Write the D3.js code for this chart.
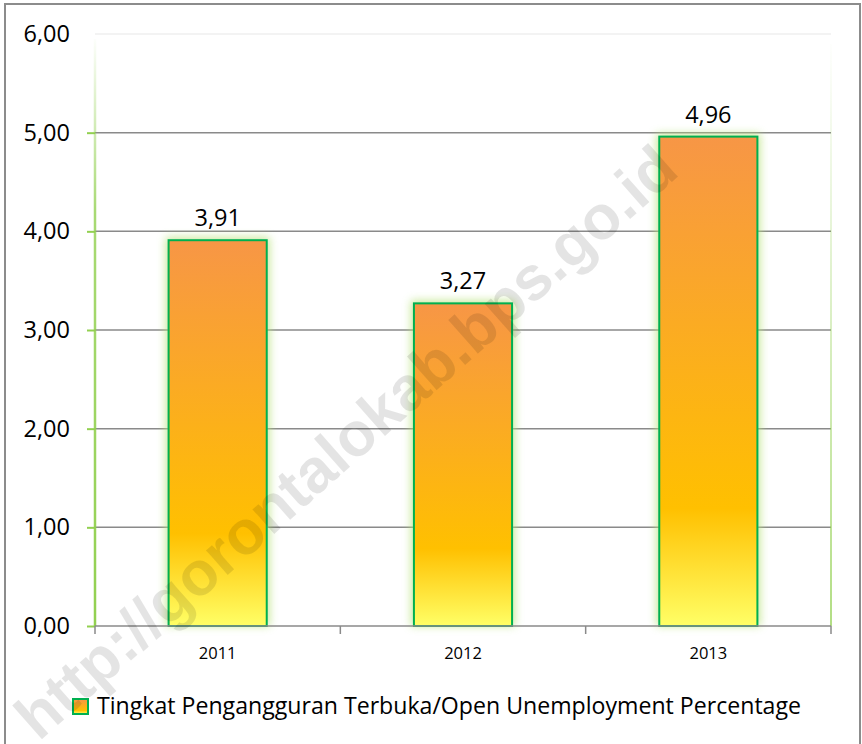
<!DOCTYPE html>
<html>
<head>
<meta charset="utf-8">
<script src="https://cdn.jsdelivr.net/npm/d3@7"></script>
<style>
  body { margin: 0; background: #fff; }
  svg text { font-family: "Open Sans", Carlito, Calibri, sans-serif; fill: #000; }
</style>
</head>
<body>
<div id="vis"></div>
<script>
// data
const years = ['2011', '2012', '2013'];
const rates = [3.91, 3.27, 4.96];
const yTicks = [0, 1, 2, 3, 4, 5, 6];
const seriesName = 'Tingkat Pengangguran Terbuka/Open Unemployment Percentage';
const watermark = 'http://gorontalokab.bps.go.id';

const W = 862, H = 744;
const plot = { left: 95, right: 831, top: 34, bottom: 626 };

const $svg = d3.select('#vis').append('svg')
  .attr('width', W).attr('height', H);

const defs = $svg.append('defs');

const grad = defs.append('linearGradient')
  .attr('id', 'barFill')
  .attr('x1', 0).attr('y1', 0).attr('x2', 0).attr('y2', 1);
grad.append('stop').attr('offset', '0%').attr('stop-color', '#F79646');
grad.append('stop').attr('offset', '76%').attr('stop-color', '#FFC000');
grad.append('stop').attr('offset', '100%').attr('stop-color', '#FFFF66');

const axisGrad = defs.append('linearGradient')
  .attr('id', 'axisFade')
  .attr('gradientUnits', 'userSpaceOnUse')
  .attr('x1', 0).attr('y1', plot.top).attr('x2', 0).attr('y2', plot.bottom);
axisGrad.append('stop').attr('offset', '0%').attr('stop-color', '#92D050').attr('stop-opacity', 0);
axisGrad.append('stop').attr('offset', '30%').attr('stop-color', '#92D050').attr('stop-opacity', 0.8);
axisGrad.append('stop').attr('offset', '100%').attr('stop-color', '#92D050').attr('stop-opacity', 1);

const rightGrad = defs.append('linearGradient')
  .attr('id', 'rightFade')
  .attr('gradientUnits', 'userSpaceOnUse')
  .attr('x1', 0).attr('y1', plot.top).attr('x2', 0).attr('y2', plot.bottom);
rightGrad.append('stop').attr('offset', '0%').attr('stop-color', '#92D050').attr('stop-opacity', 0);
rightGrad.append('stop').attr('offset', '100%').attr('stop-color', '#92D050').attr('stop-opacity', 0.7);

const glow = defs.append('filter').attr('id', 'glow')
  .attr('x', '-30%').attr('y', '-30%').attr('width', '160%').attr('height', '160%');
glow.append('feGaussianBlur').attr('stdDeviation', 4);

// outer frame
$svg.append('rect')
  .attr('x', 5).attr('y', 4)
  .attr('width', 855).attr('height', 745)
  .attr('fill', 'none')
  .attr('stroke', '#8c8c8c')
  .attr('stroke-width', 2);

// scales
const x = d3.scaleBand()
  .domain(years)
  .range([plot.left, plot.right])
  .paddingInner(0.6)
  .paddingOuter(0.3);

const xCat = d3.scaleBand()
  .domain(years)
  .range([plot.left, plot.right]);

const y = d3.scaleLinear()
  .domain([0, 6])
  .range([plot.bottom, plot.top]);

const fmt = v => d3.format('.2f')(v).replace('.', ',');

// gridlines
$svg.append('g').attr('class', 'grid')
  .selectAll('line')
  .data(yTicks.filter(d => d > 0))
  .join('line')
  .attr('x1', plot.left).attr('x2', plot.right)
  .attr('y1', d => y(d)).attr('y2', d => y(d))
  .attr('stroke', d => d === 6 ? '#efefef' : '#8a8a8a')
  .attr('stroke-width', 1.5);

// y axis
const yAxis = d3.axisLeft(y)
  .tickValues(yTicks)
  .tickSize(8)
  .tickPadding(17)
  .tickFormat(fmt);

const $yAxis = $svg.append('g')
  .attr('transform', `translate(${plot.left},0)`)
  .call(yAxis);
$yAxis.select('.domain').remove();
$yAxis.selectAll('.tick line')
  .attr('stroke', '#92D050')
  .attr('stroke-width', 2)
  .attr('opacity', d => d === 6 ? 0 : 1);
$yAxis.selectAll('.tick text')
  .style('font-size', '23.5px');

$svg.append('line')
  .attr('x1', plot.left).attr('x2', plot.left)
  .attr('y1', plot.top + 5).attr('y2', plot.bottom)
  .attr('stroke', 'url(#axisFade)')
  .attr('stroke-width', 2.5);

$svg.append('line')
  .attr('x1', plot.right).attr('x2', plot.right)
  .attr('y1', plot.top + 10).attr('y2', plot.bottom)
  .attr('stroke', 'url(#rightFade)')
  .attr('stroke-width', 2);

// bars
const $bars = $svg.append('g').attr('class', 'bars')
  .selectAll('g')
  .data(years.map((d, i) => ({ year: d, value: rates[i] })))
  .join('g');

$bars.append('rect')
  .attr('x', d => x(d.year) - 3)
  .attr('y', d => y(d.value) - 3)
  .attr('width', x.bandwidth() + 6)
  .attr('height', d => y(0) - y(d.value) + 3)
  .attr('fill', '#b8e27a')
  .attr('opacity', 0.75)
  .attr('filter', 'url(#glow)');

$bars.append('rect')
  .attr('x', d => x(d.year))
  .attr('y', d => y(d.value))
  .attr('width', x.bandwidth())
  .attr('height', d => y(0) - y(d.value))
  .attr('fill', 'url(#barFill)')
  .attr('stroke', '#00B050')
  .attr('stroke-width', 2);

$bars.append('text')
  .attr('x', d => x(d.year) + x.bandwidth() / 2)
  .attr('y', d => y(d.value) - 14)
  .attr('text-anchor', 'middle')
  .style('font-size', '23.5px')
  .text(d => fmt(d.value));

// x axis
const $xAxis = $svg.append('g')
  .attr('transform', `translate(0,${plot.bottom})`);

$xAxis.append('line')
  .attr('x1', plot.left).attr('x2', plot.right)
  .attr('stroke', '#8a8a8a').attr('stroke-width', 1.5);

$xAxis.selectAll('.xtick')
  .data(d3.range(years.length + 1))
  .join('line')
  .attr('class', 'xtick')
  .attr('x1', i => plot.left + i * xCat.step())
  .attr('x2', i => plot.left + i * xCat.step())
  .attr('y1', 0).attr('y2', 8)
  .attr('stroke', '#8a8a8a').attr('stroke-width', 1.5);

$xAxis.selectAll('.xlabel')
  .data(years)
  .join('text')
  .attr('class', 'xlabel')
  .attr('x', d => xCat(d) + xCat.bandwidth() / 2)
  .attr('y', 33)
  .attr('text-anchor', 'middle')
  .style('font-size', '16.5px')
  .text(d => d);

// legend
const $legend = $svg.append('g').attr('transform', 'translate(73,699)');
$legend.append('rect')
  .attr('width', 15).attr('height', 15)
  .attr('fill', 'url(#barFill)')
  .attr('stroke', '#00B050')
  .attr('stroke-width', 2);
$legend.append('text')
  .attr('x', 24).attr('y', 15)
  .attr('textLength', 704)
  .attr('lengthAdjust', 'spacingAndGlyphs')
  .style('font-size', '23px')
  .text(seriesName);

// watermark
$svg.append('text')
  .attr('transform', 'translate(360,458) rotate(-41.5)')
  .attr('text-anchor', 'middle')
  .style('font-family', '"Liberation Sans", Arial, sans-serif')
  .style('font-weight', 'bold')
  .style('font-size', '62px')
  .style('fill', '#000')
  .style('opacity', 0.1)
  .text(watermark);
</script>
</body>
</html>
